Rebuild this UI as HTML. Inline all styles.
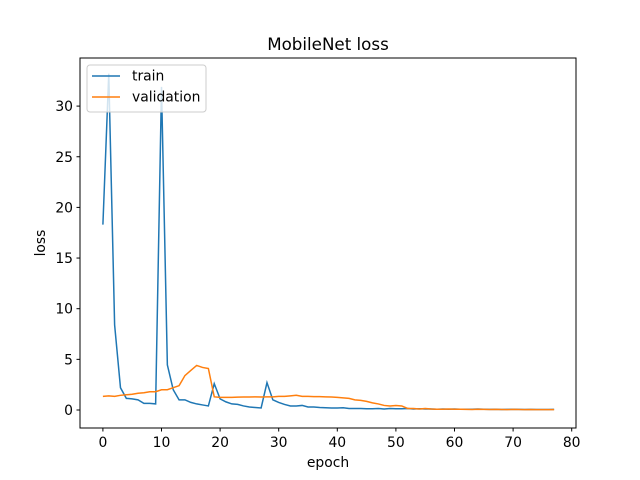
<!DOCTYPE html>
<html><head><meta charset="utf-8"><style>
body{margin:0;background:#fff;}
svg{display:block;font-family:"DejaVu Sans","Liberation Sans",sans-serif;}
</style></head><body>
<svg id="chart" width="640" height="480">
<rect x="0" y="0" width="640" height="480" fill="#fff"/>
<text x="328" y="50" font-size="16.7" text-anchor="middle">MobileNet loss</text>
<g id="plot"></g>
<rect x="80" y="58" width="496" height="370" fill="none" stroke="#000" stroke-width="1"/>
<g id="xt"></g><g id="yt"></g>
<text x="328" y="467" font-size="13.9" text-anchor="middle">epoch</text>
<text x="0" y="0" font-size="13.9" text-anchor="middle" transform="translate(45,243) rotate(-90)">loss</text>
<g>
<rect x="87" y="65" width="119" height="47" rx="3" fill="#fff" fill-opacity="0.8" stroke="#ccc"/>
<line x1="92" y1="76" x2="120" y2="76" stroke="#1f77b4" stroke-width="1.5"/>
<text x="132" y="80.5" font-size="13.9">train</text>
<line x1="92" y1="97" x2="120" y2="97" stroke="#ff7f0e" stroke-width="1.5"/>
<text x="132" y="101.5" font-size="13.9">validation</text>
</g>
</svg>
<script>
const train=[18.3,33.2,8.4,2.2,1.15,1.1,1.0,0.65,0.65,0.6,31.9,4.45,2.0,1.0,1.0,0.75,0.6,0.5,0.4,2.6,1.1,0.8,0.6,0.55,0.4,0.3,0.25,0.2,2.7,1.0,0.75,0.55,0.4,0.4,0.45,0.3,0.3,0.25,0.22,0.2,0.2,0.22,0.15,0.15,0.15,0.12,0.12,0.15,0.1,0.15,0.12,0.12,0.15,0.1,0.12,0.1,0.1,0.08,0.1,0.08,0.1,0.08,0.08,0.08,0.1,0.08,0.06,0.08,0.05,0.06,0.08,0.06,0.05,0.06,0.05,0.05,0.05,0.06];
const validation=[1.35,1.4,1.35,1.45,1.5,1.55,1.65,1.7,1.8,1.8,2.0,2.0,2.2,2.4,3.4,3.9,4.4,4.2,4.1,1.3,1.25,1.25,1.25,1.27,1.28,1.28,1.3,1.28,1.3,1.3,1.35,1.35,1.4,1.45,1.35,1.35,1.32,1.32,1.3,1.28,1.25,1.2,1.15,1.0,0.95,0.85,0.7,0.6,0.45,0.4,0.45,0.4,0.15,0.15,0.1,0.15,0.1,0.08,0.08,0.1,0.08,0.08,0.06,0.05,0.08,0.06,0.05,0.06,0.05,0.04,0.06,0.05,0.04,0.05,0.04,0.04,0.04,0.04];
const xTicks=[0,10,20,30,40,50,60,70,80];
const yTicks=[0,5,10,15,20,25,30];
const X=v=>102.9+v*5.86, Y=v=>410-v*10.13;
const NS="http://www.w3.org/2000/svg";
const plot=document.getElementById('plot');
function line(arr,color,name){
  const p=document.createElementNS(NS,'polyline');
  p.setAttribute('points',arr.map((v,i)=>X(i)+','+Y(v)).join(' '));
  p.setAttribute('fill','none');p.setAttribute('stroke',color);p.setAttribute('stroke-width','1.5');
  
  
  plot.appendChild(p);
}
line(train,'#1f77b4','train-line');
line(validation,'#ff7f0e','validation-line');
const xt=document.getElementById('xt');
xTicks.forEach(t=>{
  const g=document.createElementNS(NS,'g');
  
  
  g.innerHTML=`<line x1="${X(t)}" y1="428" x2="${X(t)}" y2="431.5" stroke="#000"/><text x="${X(t)}" y="447" font-size="13.9" text-anchor="middle">${t}</text>`;
  xt.appendChild(g);
});
const yt=document.getElementById('yt');
yTicks.forEach(t=>{
  const g=document.createElementNS(NS,'g');
  
  
  g.innerHTML=`<line x1="76.5" y1="${Y(t)}" x2="80" y2="${Y(t)}" stroke="#000"/><text x="73" y="${Y(t)+5}" font-size="13.9" text-anchor="end">${t}</text>`;
  yt.appendChild(g);
});
</script>
</body></html>
